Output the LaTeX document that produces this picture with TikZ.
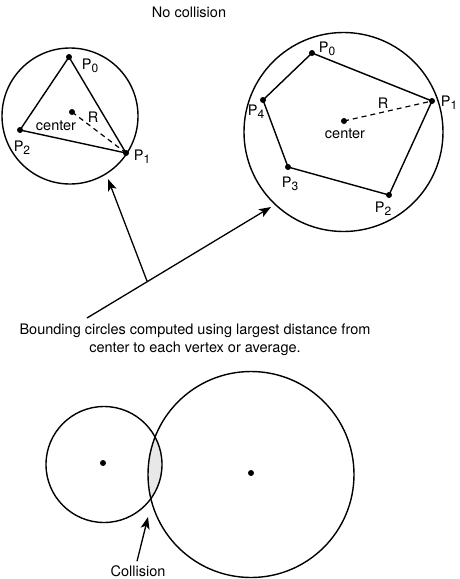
\documentclass[tikz,border=0pt]{standalone}
\usepackage{fontspec}
\setmainfont{TeX Gyre Heros}
\usetikzlibrary{arrows.meta}
\newcommand{\Pl}[1]{P\raisebox{-0.35ex}{\fontsize{12}{12}\selectfont #1}}
\tikzset{
  bound/.style={line width=1.4pt},
  poly/.style={line width=1.4pt, line join=round},
  rad/.style={line width=1.2pt, dash pattern=on 5pt off 4pt},
  dotc/.style={circle, fill=black, inner sep=0pt, minimum size=6pt},
  lbl/.style={inner sep=0pt, font=\fontsize{14.5}{18}\selectfont},
  pointer/.style={line width=1.3pt, -{Stealth[length=12pt, width=9pt, inset=3pt]}},
}
\begin{document}
\begin{tikzpicture}[x=1pt, y=-1pt]
\useasboundingbox (0,0) rectangle (459,579);
\node[lbl] (title) at (189,12) {No collision};
% left triangle
\draw[bound] (70,116) circle (68);
\node[dotc] (lp0) at (69,57) {};
\node[dotc] (lp1) at (126,153) {};
\node[dotc] (lp2) at (20,130) {};
\node[dotc] (lc) at (72,112) {};
\draw[poly] (lp0.center) -- (lp1.center) -- (lp2.center) -- cycle;
\draw[rad] (lc.center) -- (lp1.center);
\node[lbl] at (90,66) {\Pl{0}};
\node[lbl] at (142,157) {\Pl{1}};
\node[lbl] at (22,148) {\Pl{2}};
\node[lbl] at (56,126) {center};
\node[lbl] at (93,117) {R};
% right pentagon
\draw[bound] (343.5,132) circle (99.5);
\node[dotc] (rp0) at (312,53) {};
\node[dotc] (rp1) at (432,101) {};
\node[dotc] (rp2) at (389,195) {};
\node[dotc] (rp3) at (288,167) {};
\node[dotc] (rp4) at (263,100) {};
\node[dotc] (rc) at (344,121) {};
\draw[poly] (rp0.center) -- (rp1.center) -- (rp2.center) -- (rp3.center) -- (rp4.center) -- cycle;
\draw[rad] (rc.center) -- (rp1.center);
\node[lbl] at (327,49) {\Pl{0}};
\node[lbl] at (449,103) {\Pl{1}};
\node[lbl] at (383,209) {\Pl{2}};
\node[lbl] at (290,184) {\Pl{3}};
\node[lbl] at (256,112) {\Pl{4}};
\node[lbl] at (345,134) {center};
\node[lbl] at (383,103) {R};
% pointers
\node[lbl, align=center] (note) at (195,340) {Bounding circles computed using largest distance from\\center to each vertex or average.};
\coordinate (start) at (87,318);
\coordinate (branch) at (147,281);
\coordinate (tipR) at (271,207);
\coordinate (tipL) at (108,179);
\draw[pointer] (start) -- (tipR);
\draw[pointer] (branch) -- (tipL);
% collision
\begin{scope}
  \clip (104,464.5) circle (58);
  \fill[black!9] (251,474.5) circle (103);
\end{scope}
\draw[bound] (104,464.5) circle (58);
\draw[bound] (251,474.5) circle (103);
\node[dotc] (sc) at (103,463) {};
\node[dotc] (bc) at (251,473) {};
\node[lbl] (coll) at (138,571) {Collision};
\coordinate (ctip) at (148,517);
\draw[pointer] (coll.north) ++(-1,-4) -- (ctip);
\end{tikzpicture}
\end{document}
